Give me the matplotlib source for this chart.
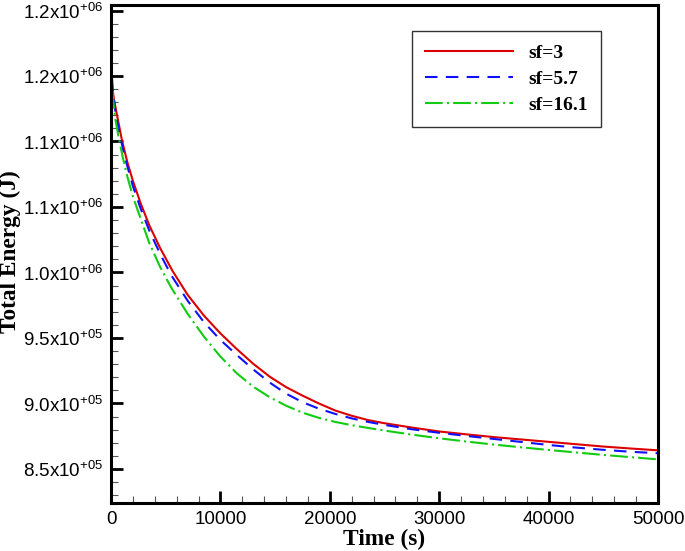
import numpy as np
import matplotlib
matplotlib.use("Agg")
import matplotlib.pyplot as plt
from matplotlib.ticker import MultipleLocator, FixedLocator, FixedFormatter

# Data (time in s, energy in J)
time_sf3 = [0, 250, 600, 1000, 1500, 2000, 2700, 3500, 4500, 5600, 7000, 8500,
            10000, 11500, 13000, 14500, 16000, 17500, 19000, 20500, 22000,
            23500, 25000, 27500, 30000, 32500, 35000, 37500, 40000, 42500,
            45000, 47500, 50000]
energy_sf3 = [1150000, 1133000, 1118000, 1101000, 1084000, 1070000, 1053000,
              1036000, 1018500, 1001500, 983000, 967000, 953500, 941500,
              930300, 920500, 912500, 906000, 900000, 894600, 890600, 887300,
              884900, 881600, 878600, 876400, 874300, 872500, 870700, 868900,
              867100, 865600, 864200]

time_sf57 = [0, 150, 400, 800, 1300, 2000, 2700, 3500, 4500, 5500, 7000, 8500,
             10000, 11500, 13000, 14500, 16000, 17500, 19000, 20500, 22000,
             23500, 25000, 27500, 30000, 32500, 35000, 37500, 40000, 42500,
             45000, 47500, 50000]
energy_sf57 = [1164000, 1140000, 1123000, 1105000, 1087000, 1066000, 1049000,
               1032000, 1014000, 998000, 978500, 962000, 948500, 937000,
               926000, 916000, 907500, 901000, 896000, 892000, 888600, 885900,
               883600, 880300, 877600, 875200, 872900, 870600, 868300, 866300,
               864600, 863100, 862000]

time_sf161 = [0, 150, 400, 700, 1100, 1500, 2000, 2800, 3500, 4500, 5500,
              7000, 8500, 10000, 11500, 13000, 14500, 16000, 17500, 19000,
              20500, 22000, 23500, 25000, 27500, 30000, 32500, 35000, 37500,
              40000, 42500, 45000, 47500, 50000]
energy_sf161 = [1160000, 1135000, 1117000, 1103000, 1087000, 1073000, 1058000,
                1039000, 1022500, 1004000, 988500, 968500, 951000, 935800,
                923000, 912800, 904800, 898300, 893000, 889000, 885900, 883400,
                881300, 879300, 876200, 873400, 870900, 868600, 866500, 864500,
                862600, 860700, 859000, 857300]

y_ticks = [850000, 900000, 950000, 1000000, 1050000, 1100000, 1150000, 1200000]
y_tick_labels = ["8.5x10$^{+05}$", "9.0x10$^{+05}$", "9.5x10$^{+05}$",
                 "1.0x10$^{+06}$", "1.1x10$^{+06}$", "1.1x10$^{+06}$",
                 "1.2x10$^{+06}$", "1.2x10$^{+06}$"]
x_ticks = [0, 10000, 20000, 30000, 40000, 50000]

plt.rcParams["font.family"] = ["Liberation Sans", "DejaVu Sans"]
plt.rcParams["mathtext.fontset"] = "custom"
plt.rcParams["mathtext.rm"] = "Liberation Sans"
plt.rcParams["mathtext.it"] = "Liberation Sans:italic"
plt.rcParams["mathtext.bf"] = "Liberation Sans:bold"

fig = plt.figure(figsize=(6.85, 5.51), dpi=100)
ax = fig.add_axes([111 / 685, 48 / 551, 547 / 685, 498 / 551])

lw = 1.5
ax.plot(time_sf3, energy_sf3, color="#dd0000", linewidth=lw, label="sf=3")
ax.plot(time_sf57, energy_sf57, color="#1010ff", linewidth=lw,
        dashes=(6, 4), label="sf=5.7")
ax.plot(time_sf161, energy_sf161, color="#11cc11", linewidth=lw,
        dashes=(8.5, 2, 1, 2), label="sf=16.1")

ax.set_xlim(0, 50000)
ax.set_ylim(824000, 1204200)

ax.xaxis.set_major_locator(FixedLocator(x_ticks))
ax.xaxis.set_minor_locator(MultipleLocator(2000))
ax.yaxis.set_major_locator(FixedLocator(y_ticks))
ax.yaxis.set_major_formatter(FixedFormatter(y_tick_labels))
ax.yaxis.set_minor_locator(MultipleLocator(10000))

ax.tick_params(which="both", direction="in", top=False, right=False,
               labelsize=13.5, colors="black")
ax.tick_params(which="major", length=8.5, width=2.0, pad=5.5)
ax.tick_params(which="minor", length=5, width=0.8, color="#555555")

for side in ["left", "bottom", "top", "right"]:
    ax.spines[side].set_linewidth(2.2)

label_font = dict(family="Liberation Serif", fontweight="bold", fontsize=16.8)
ax.set_xlabel("Time (s)", **label_font)
ax.set_ylabel("Total Energy (J)", **label_font)
ax.xaxis.set_label_coords(0.5, -0.052)
ax.yaxis.set_label_coords(-0.164, 0.505)

leg = ax.legend(loc="upper left", bbox_to_anchor=(0.550, 0.948),
                prop=dict(family="Liberation Serif", weight="bold", size=14),
                frameon=True, fancybox=False, framealpha=1, edgecolor="#333333",
                handlelength=4.5, handletextpad=0.77, labelspacing=0.42,
                borderpad=0.7, borderaxespad=0)
leg.get_frame().set_linewidth(1.0)

fig.savefig("out.png", dpi=100)
